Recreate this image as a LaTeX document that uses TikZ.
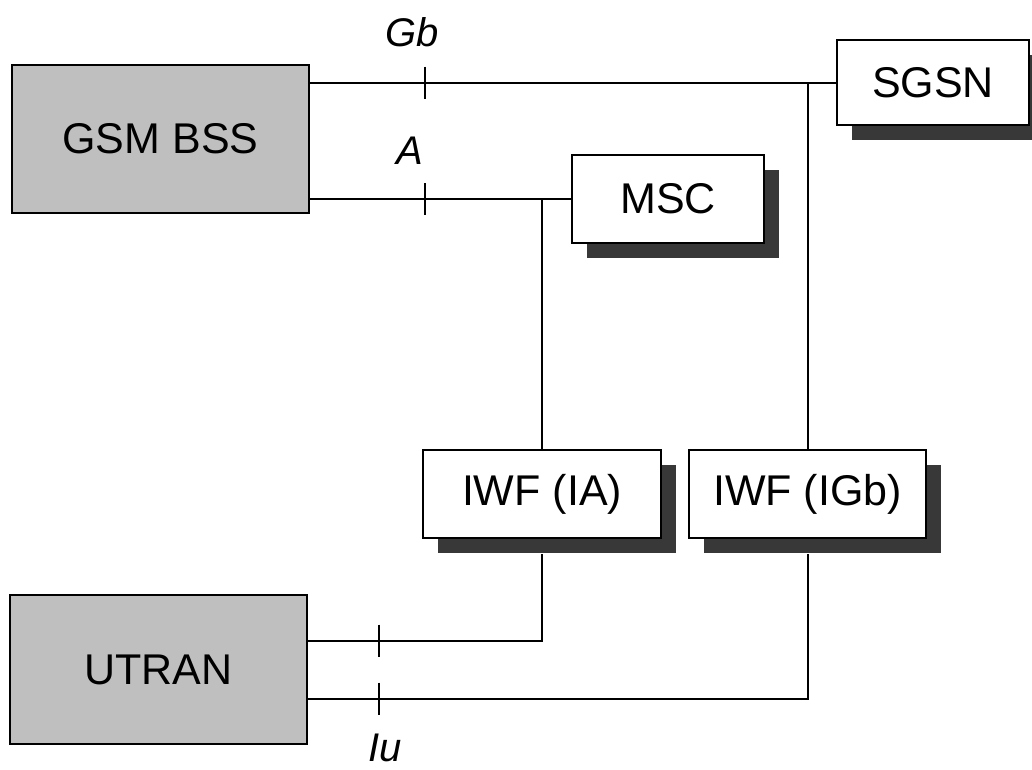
\documentclass[tikz,border=0pt]{standalone}
\usepackage{fontspec}
\setmainfont{Liberation Sans}
\usetikzlibrary{shadows}

\tikzstyle{every node}=[inner sep=0pt, font={\fontsize{43pt}{50pt}\selectfont}]
\tikzstyle{ran}=[draw=black, line width=2pt, fill=black!25]
\tikzstyle{core}=[draw=black, line width=2pt, fill=white,
  drop shadow={shadow xshift=15pt, shadow yshift=-15pt, fill=black!78, opacity=1}]
\tikzstyle{iface}=[font={\fontsize{40pt}{46pt}\selectfont\itshape}]
\tikzstyle{link}=[line width=2pt]

\begin{document}
\begin{tikzpicture}[x=1pt, y=-1pt]
    \useasboundingbox (0,0) rectangle (1032,769);

    % access networks
    \node [ran, minimum width=297pt, minimum height=148pt] (gsm) at (160.5,139) {GSM BSS};
    \node [ran, minimum width=297pt, minimum height=149pt] (utran) at (158.5,669.5) {UTRAN};

    % core nodes
    \node [core, minimum width=192pt, minimum height=85pt] (sgsn) at (933,82.5) {SGSN};
    \node [core, minimum width=192pt, minimum height=88pt] (msc) at (668,199) {MSC};
    \node [core, minimum width=238pt, minimum height=88pt] (iwfa) at (542,494) {IWF (IA)};
    \node [core, minimum width=237pt, minimum height=88pt] (iwfb) at (807.5,494) {IWF (IGb)};

    % Gb and A
    \draw [link] (gsm.east |- sgsn.west) -- (sgsn.west);
    \draw [link] (gsm.east |- msc.west) -- (msc.west);
    \draw [link] (iwfb.north |- sgsn.west) -- (iwfb.north);
    \draw [link] (iwfa.north |- msc.west) -- (iwfa.north);

    % Iu
    \coordinate (iwfaout) at ([yshift=-15pt]iwfa.south);
    \coordinate (iwfbout) at ([yshift=-15pt]iwfb.south);
    \draw [link] (iwfaout) |- ([yshift=29pt]utran.east);
    \draw [link] (iwfbout) |- ([yshift=-29pt]utran.east);

    % interface ticks
    \coordinate (gbtick) at (425,0 |- sgsn.west);
    \coordinate (atick) at (425,0 |- msc.west);
    \coordinate (iutickA) at ([yshift=29pt]utran.east -| 379,0);
    \coordinate (iutickB) at ([yshift=-29pt]utran.east -| 379,0);
    \foreach \t in {gbtick, atick, iutickA, iutickB}
        \draw [link] ([yshift=16pt]\t) -- ([yshift=-16pt]\t);

    \node [iface] (gblabel) at (412,32) {Gb};
    \node [iface] (alabel) at (410,151) {A};
    \node [iface] (iulabel) at (385,748) {Iu};
\end{tikzpicture}
\end{document}
